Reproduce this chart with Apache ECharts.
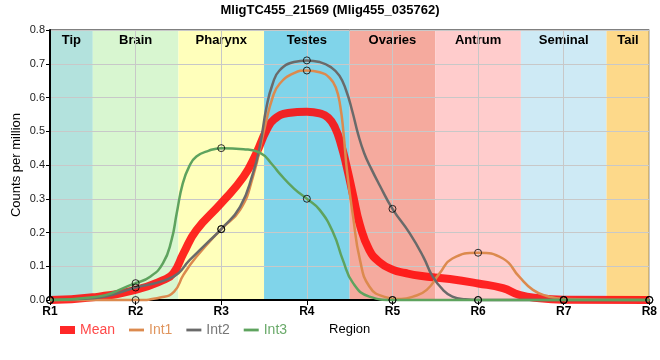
<!DOCTYPE html>
<html>
<head>
<meta charset="utf-8">
<script src="https://cdn.jsdelivr.net/npm/echarts@6/dist/echarts.min.js"></script>
<style>html,body{margin:0;padding:0;background:#fff}#c{width:660px;height:360px}</style>
</head>
<body>
<div id="c"></div>
<script>
// ---- data ----
const title = 'MligTC455_21569 (Mlig455_035762)';
const tickLabels = ['R1','R2','R3','R4','R5','R6','R7','R8'];
const regionNames = ['Tip','Brain','Pharynx','Testes','Ovaries','Antrum','Seminal','Tail'];
const regionStart = [1, 1.5, 2.5, 3.5, 4.5, 5.5, 6.5, 7.5];
const regionEnd   = [1.5, 2.5, 3.5, 4.5, 5.5, 6.5, 7.5, 8];
const seriesNames = ['Mean','Int1','Int2','Int3'];

// measured values at each region (markers)
const int1Values = [0, 0, 0.21, 0.68, 0, 0.14, 0, 0];
const int2Values = [0, 0.037, 0.21, 0.71, 0.27, 0, 0, 0];
const int3Values = [0, 0.05, 0.45, 0.30, 0, 0, 0, 0];

// smoothed profiles as [position, value]
const meanCurve = [[1,0],[1.5,0.008],[2,0.03],[2.32,0.059],[2.44,0.079],[2.56,0.139],[2.71,0.207],[3,0.287],[3.26,0.365],[3.41,0.435],[3.53,0.504],[3.62,0.536],[3.78,0.554],[4,0.558],[4.15,0.553],[4.25,0.54],[4.33,0.51],[4.4,0.46],[4.47,0.39],[4.54,0.31],[4.62,0.222],[4.73,0.148],[4.85,0.112],[5,0.09],[5.15,0.08],[5.32,0.072],[5.67,0.062],[6,0.049],[6.29,0.035],[6.48,0.015],[6.72,0.005],[7,0.001],[8,0]];
const int1Curve = [[1,0],[2,0],[2.3,0.008],[2.45,0.025],[2.56,0.075],[2.71,0.128],[3,0.21],[3.22,0.267],[3.37,0.365],[3.51,0.513],[3.6,0.6],[3.68,0.64],[3.85,0.672],[4,0.68],[4.15,0.675],[4.27,0.657],[4.34,0.628],[4.39,0.575],[4.43,0.49],[4.47,0.38],[4.54,0.247],[4.62,0.119],[4.73,0.04],[4.9,0.01],[5.1,0.003],[5.24,0.01],[5.4,0.03],[5.55,0.079],[5.7,0.123],[6,0.14],[6.29,0.123],[6.48,0.069],[6.64,0.03],[6.8,0.012],[7,0.003],[8,0]];
const int2Curve = [[1,0],[1.5,0.005],[2,0.037],[2.44,0.069],[2.63,0.118],[2.83,0.168],[3,0.21],[3.22,0.276],[3.37,0.375],[3.45,0.454],[3.53,0.573],[3.6,0.64],[3.68,0.68],[3.85,0.705],[4,0.71],[4.15,0.705],[4.28,0.69],[4.38,0.665],[4.46,0.62],[4.53,0.56],[4.6,0.49],[4.67,0.435],[4.75,0.39],[4.85,0.34],[5,0.27],[5.2,0.198],[5.36,0.128],[5.47,0.069],[5.59,0.03],[5.7,0.01],[5.85,0.002],[6,0],[8,0]];
const int3Curve = [[1,0],[1.5,0.008],[2,0.05],[2.17,0.069],[2.32,0.109],[2.42,0.178],[2.48,0.257],[2.55,0.345],[2.63,0.398],[2.71,0.425],[2.85,0.442],[3,0.45],[3.26,0.447],[3.45,0.437],[3.6,0.4],[3.68,0.375],[3.85,0.33],[4,0.30],[4.15,0.267],[4.31,0.198],[4.42,0.119],[4.54,0.05],[4.73,0.01],[5,0],[8,0]];

// ---- styles ----
const bandColors = ['#b3e2dd','#d8f6d0','#ffffbb','#80d4ea','#f5aa9e','#ffcccc','#ceeaf5','#fdd98a'];
const lineColors = ['rgba(255,10,10,0.88)','#dc8a4e','#6a6a6a','#5ea35e'];
const legendTextColors = ['#ff4a4a','#e0955e','#777777','#6aaa6a'];
const FONT = 'Liberation Sans, Arial, sans-serif';

const chart = echarts.init(document.getElementById('c'), null, {renderer:'canvas'});

const positions = tickLabels.map((_, i) => i + 1);
const bandData = regionNames.map((n, i) => [regionStart[i], regionEnd[i], i]);

function markerSeries(name, vals) {
  return {
    name: name, type: 'scatter', z: 5,
    data: positions.map((p, i) => [p, vals[i]]),
    symbol: 'circle', symbolSize: 7,
    itemStyle: {color: 'rgba(0,0,0,0)', borderColor: '#000', borderWidth: 1},
    clip: false, silent: true
  };
}
function lineSeries(i, data, width) {
  return {
    name: seriesNames[i], type: 'line', data: data, smooth: 0.5,
    symbol: 'none', showSymbol: false, clip: false,
    lineStyle: {color: lineColors[i], width: width},
    itemStyle: {color: lineColors[i]}, z: 3 + i * 0.1
  };
}

const option = {
  animation: false,
  title: {text: title, left: 'center', top: 4, padding: 0,
    textStyle: {fontFamily: FONT, fontSize: 13, fontWeight: 'bold', color: '#000'}},
  grid: {left: 50, right: 10, top: 30, bottom: 60, show: true, borderColor: '#000', borderWidth: 1, backgroundColor: 'transparent'},
  legend: {
    left: 55, top: 318, itemGap: 14, itemWidth: 15, itemHeight: 8, selectedMode: false,
    textStyle: {fontFamily: FONT, fontSize: 14},
    data: seriesNames.map((n, i) => ({
      name: n,
      icon: i === 0 ? 'rect' : 'path://M0,0H16V3H0Z',
      itemStyle: {color: lineColors[i]},
      textStyle: {color: legendTextColors[i]}
    }))
  },
  xAxis: {
    type: 'value', min: 1, max: 8, interval: 1,
    name: 'Region', nameLocation: 'middle', nameGap: 23, nameMoveOverlap: false,
    nameTextStyle: {fontFamily: FONT, fontSize: 13, color: '#000'},
    axisLine: {lineStyle: {color: '#000', width: 2}},
    axisTick: {show: true, length: 5, lineStyle: {color: '#000'}},
    axisLabel: {formatter: v => tickLabels[v - 1] || '', fontFamily: FONT, fontSize: 12, fontWeight: 'bold', color: '#000', margin: 6},
    splitLine: {show: true, lineStyle: {color: '#c8c8c8', width: 1}}
  },
  yAxis: {
    type: 'value', min: 0, max: 0.8, interval: 0.1,
    name: 'Counts per million', nameLocation: 'middle', nameGap: 27, nameMoveOverlap: false,
    nameTextStyle: {fontFamily: FONT, fontSize: 13, color: '#000'},
    axisLine: {show: true, lineStyle: {color: '#000', width: 2}},
    axisTick: {show: true, length: 4, lineStyle: {color: '#000'}},
    axisLabel: {formatter: v => v.toFixed(1), fontFamily: FONT, fontSize: 11, color: '#222', margin: 5},
    splitLine: {show: true, lineStyle: {color: '#c8c8c8', width: 1}}
  },
  series: [
    {
      name: 'bands', type: 'custom', z: -1, silent: true,
      data: bandData,
      encode: {x: [0, 1]},
      renderItem: function (params, api) {
        const i = api.value(2);
        const tl = api.coord([api.value(0), 0.8]);
        const br = api.coord([api.value(1), 0]);
        return {
          type: 'group',
          children: [
            {type: 'rect', shape: {x: tl[0], y: tl[1], width: br[0] - tl[0], height: br[1] - tl[1]},
             style: {fill: bandColors[i]}},
            {type: 'text', style: {text: regionNames[i], x: (tl[0] + br[0]) / 2, y: tl[1] + 4,
              align: 'center', verticalAlign: 'top', fontFamily: FONT, fontSize: 13, fontWeight: 'bold', fill: '#000'}}
          ]
        };
      }
    },
    lineSeries(0, meanCurve, 8),
    lineSeries(1, int1Curve, 2.5),
    lineSeries(2, int2Curve, 2.5),
    lineSeries(3, int3Curve, 2.5),
    markerSeries('Int1 points', int1Values),
    markerSeries('Int2 points', int2Values),
    markerSeries('Int3 points', int3Values)
  ]
};
chart.setOption(option);
</script>
</body>
</html>
